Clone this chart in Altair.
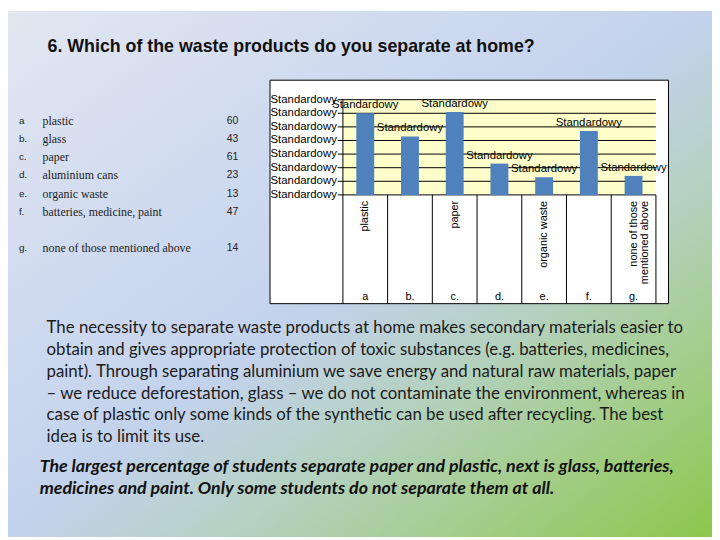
import altair as alt
import pandas as pd

# ---------------- data ----------------
cats = ["a", "b.", "c.", "d.", "e.", "f.", "g."]
names = ["plastic", "glass", "paper", "aluminium cans", "organic waste",
         "batteries, medicine, paint", "none of those mentioned above"]
values = [60, 43, 61, 23, 13, 47, 14]
axis_names = ["plastic", "", "paper", "", "organic waste", "",
              "none of those\nmentioned above"]
y_ticks = [0, 10, 20, 30, 40, 50, 60, 70]
broken_label = "Standardowy"

title_text = "6. Which of the waste products do you separate at home?"
paragraph_lines = [
    "The necessity to separate waste products at home makes secondary materials easier to",
    "obtain and gives appropriate protection of toxic substances (e.g. batteries, medicines,",
    "paint). Through separating aluminium we save energy and natural raw materials, paper",
    "\u2013 we reduce deforestation, glass \u2013 we do not contaminate the environment, whereas in",
    "case of plastic only some kinds of the synthetic can be used after recycling. The best",
    "idea is to limit its use.",
]
conclusion_lines = [
    "The largest percentage of students separate paper and plastic, next is glass, batteries,",
    "medicines and paint. Only some students do not separate them at all.",
]

# ---------------- layout helpers ----------------
M = 8  # page margin


def P(v):
    return v - M


W, H = 712, 532
SANS = "Liberation Sans"
SERIF = "Liberation Serif"
BODY = "Lato"

df = pd.DataFrame({"cat": cats, "name": names, "value": values, "axname": axis_names})
df_ax = df[df["axname"] != ""]
ticks = pd.DataFrame({"tick": y_ticks})

x_bar = alt.Scale(type="band", domain=cats, range=[P(346.7), P(663.3)],
                  paddingInner=0.6, paddingOuter=0.3)
x_col = alt.Scale(type="band", domain=cats, range=[P(346.7), P(663.3)],
                  paddingInner=0, paddingOuter=0)
y_val = alt.Scale(type="linear", domain=[0, 70], range=[P(194), P(97.7)],
                  nice=False, zero=True)
row_dom = cats[:6] + ["_gap"] + cats[6:]
y_row = alt.Scale(type="point", domain=row_dom, range=[P(119), P(248)], padding=0)

one = pd.DataFrame({"k": [0]})

# background gradient
bg = alt.Chart(one).mark_rect(
    fill=alt.Gradient(
        gradient="linear", x1=0, y1=0, x2=1, y2=1,
        stops=[
            alt.GradientStop(color="#e2e7f1", offset=0),
            alt.GradientStop(color="#cfdaef", offset=0.3),
            alt.GradientStop(color="#c3d2ec", offset=0.5),
            alt.GradientStop(color="#b4d1c0", offset=0.66),
            alt.GradientStop(color="#a3cd8a", offset=0.82),
            alt.GradientStop(color="#8cc74c", offset=1),
        ],
    )
).encode(x=alt.value(0), x2=alt.value(W), y=alt.value(0), y2=alt.value(H))

# title
title = alt.Chart(one).mark_text(
    text=title_text, font=SANS, fontSize=18, fontWeight="bold", align="left",
    baseline="middle", color="#111111"
).encode(x=alt.value(P(48)), y=alt.value(P(44)))

# left table
tbl_letter = alt.Chart(df).mark_text(font=SANS, fontSize=10, align="left", baseline="middle",
                                     color="#222222").encode(
    x=alt.value(P(19)), y=alt.Y("cat:N", scale=y_row, axis=None), text="cat:N")
tbl_name = alt.Chart(df).mark_text(font=SERIF, fontSize=12, align="left", baseline="middle",
                                   color="#222222").encode(
    x=alt.value(P(43)), y=alt.Y("cat:N", scale=y_row, axis=None), text="name:N")
tbl_val = alt.Chart(df).mark_text(font=SANS, fontSize=10.5, align="right", baseline="middle",
                                  color="#222222").encode(
    x=alt.value(P(241)), y=alt.Y("cat:N", scale=y_row, axis=None), text="value:Q")

# chart box
box = alt.Chart(one).mark_rect(fill="white", stroke="black", strokeWidth=1).encode(
    x=alt.value(P(273)), x2=alt.value(P(676)), y=alt.value(P(78)), y2=alt.value(P(304)))
plot_bg = alt.Chart(one).mark_rect(fill="#ffffcc").encode(
    x=alt.value(P(346.7)), x2=alt.value(P(663.3)),
    y=alt.Y("a:Q", scale=y_val, axis=None), y2=alt.Y2("b:Q")
).transform_calculate(a="0", b="70")

grid = alt.Chart(ticks).mark_rule(color="black", strokeWidth=1).encode(
    x=alt.value(P(341.5)), x2=alt.value(P(663.3)),
    y=alt.Y("tick:Q", scale=y_val, axis=None))
y_axis_line = alt.Chart(one).mark_rule(color="black", strokeWidth=1).encode(
    x=alt.value(P(346.7)), y=alt.value(P(97.7)), y2=alt.value(P(304)))
y_labels = alt.Chart(ticks).mark_text(
    text=broken_label, font=SANS, fontSize=11.5, align="left", baseline="middle", color="black"
).encode(x=alt.value(P(273.5)), y=alt.Y("tick:Q", scale=y_val, axis=None))

bars = alt.Chart(df).mark_bar(color="#4f81bd").encode(
    x=alt.X("cat:N", scale=x_bar, axis=None),
    y=alt.Y("value:Q", scale=y_val, axis=None))
bar_labels = alt.Chart(df).mark_text(
    text=broken_label, font=SANS, fontSize=11.5, align="center", baseline="bottom", dy=-3,
    color="black"
).encode(x=alt.X("cat:N", scale=x_bar, axis=None),
         y=alt.Y("value:Q", scale=y_val, axis=None))

col_lines = alt.Chart(df).mark_rule(color="black", strokeWidth=1).encode(
    x=alt.X("cat:N", scale=x_col, axis=None, bandPosition=1),
    y=alt.value(P(194)), y2=alt.value(P(304)))
cat_labels = alt.Chart(df).mark_text(font=SANS, fontSize=11, align="center",
                                     baseline="middle", color="black").encode(
    x=alt.X("cat:N", scale=x_col, axis=None), y=alt.value(P(297)), text="cat:N")
rot_labels = alt.Chart(df_ax).mark_text(font=SANS, fontSize=11, angle=270, align="right",
                                        baseline="middle", lineBreak="\n", lineHeight=12,
                                        color="black").encode(
    x=alt.X("cat:N", scale=x_col, axis=None), y=alt.value(P(200)), text="axname:N")

para = alt.Chart(one).mark_text(
    text=paragraph_lines, font=BODY, fontSize=17, align="left", baseline="middle",
    lineHeight=22, color="#1b1b1b"
).encode(x=alt.value(P(47)), y=alt.value(P(329)))
concl = alt.Chart(one).mark_text(
    text=conclusion_lines, font=BODY, fontSize=18, fontWeight="bold", fontStyle="italic",
    align="left", baseline="middle", lineHeight=23, color="#111111"
).encode(x=alt.value(P(40)), y=alt.value(P(469)))

chart = alt.layer(
    bg, title, tbl_letter, tbl_name, tbl_val, box, plot_bg, grid, y_axis_line, y_labels,
    bars, bar_labels, col_lines, cat_labels, rot_labels, para, concl
).resolve_scale(x="independent", y="independent").properties(
    width=W, height=H, padding=0, autosize="none"
).configure_view(stroke=None)

chart.save("out.html", embed_options={"renderer": "svg", "actions": False})
